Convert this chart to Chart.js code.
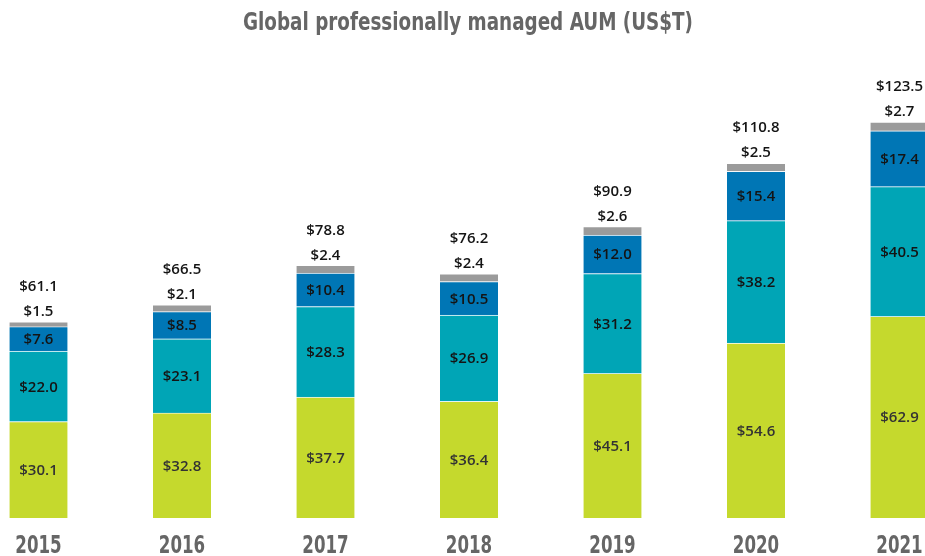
<!DOCTYPE html>
<html>
<head>
<meta charset="utf-8">
<script src="https://cdn.jsdelivr.net/npm/chart.js@4.4.1/dist/chart.umd.min.js"></script>
<style>
    html, body { margin: 0; padding: 0; background: #ffffff; }
    #wrap { position: relative; width: 925px; height: 556px; }
</style>
</head>
<body>
<div id="wrap"><canvas id="aum"></canvas></div>
<script>
const years = ['2015', '2016', '2017', '2018', '2019', '2020', '2021'];
const seriesGreen = [30.1, 32.8, 37.7, 36.4, 45.1, 54.6, 62.9];
const seriesTeal = [22.0, 23.1, 28.3, 26.9, 31.2, 38.2, 40.5];
const seriesBlue = [7.6, 8.5, 10.4, 10.5, 12.0, 15.4, 17.4];
const seriesGray = [1.5, 2.1, 2.4, 2.4, 2.6, 2.5, 2.7];
const totals = [61.1, 66.5, 78.8, 76.2, 90.9, 110.8, 123.5];

const titleText = 'Global professionally managed AUM (US$T)';
const narrow = '"Liberation Sans Narrow", "DejaVu Sans Condensed", sans-serif';
const labelFont = '600 15px "Open Sans", sans-serif';

const fmt = (v) => '$' + v.toFixed(1);

// squeeze text horizontally so it reads like the condensed face of the original
function squeezedText(ctx, text, cx, cy, squeeze) {
    ctx.save();
    ctx.translate(cx, cy);
    ctx.scale(squeeze, 1);
    ctx.fillText(text, 0, 0);
    ctx.restore();
}

// labels, title and year ticks drawn on top of the bars
const labelPlugin = {
    id: 'aumLabels',
    afterDatasetsDraw(chart) {
        const {ctx, scales: {x, y}} = chart;
        ctx.save();
        ctx.textAlign = 'center';
        ctx.textBaseline = 'middle';
        ctx.font = labelFont;

        // values inside the three big segments
        [0, 1, 2].forEach((di) => {
            const meta = chart.getDatasetMeta(di);
            ctx.fillStyle = di === 0 ? '#333333' : '#141414';
            meta.data.forEach((bar, i) => {
                const {y: top, base} = bar.getProps(['y', 'base'], true);
                ctx.fillText(fmt(chart.data.datasets[di].data[i]), bar.x, (top + base) / 2 + 1);
            });
        });

        // gray segment value and total above each bar
        const grayMeta = chart.getDatasetMeta(3);
        ctx.fillStyle = '#141414';
        grayMeta.data.forEach((bar, i) => {
            const top = bar.getProps(['y'], true).y;
            ctx.fillText(fmt(seriesGray[i]), bar.x, top - 10);
            ctx.fillText(fmt(totals[i]), bar.x, top - 35);
        });

        // year labels
        ctx.fillStyle = '#666666';
        ctx.font = 'bold 25px ' + narrow;
        years.forEach((yr, i) => {
            squeezedText(ctx, yr, x.getPixelForValue(i), y.bottom + 28, 0.74);
        });

        // title, fitted to the width it has in the original
        ctx.font = 'bold 24px ' + narrow;
        const w = ctx.measureText(titleText).width;
        squeezedText(ctx, titleText, 468, 24, Math.min(1, 450 / w));
        ctx.restore();
    }
};

const makeSet = (label, data, color) => ({
    label: label,
    data: data,
    backgroundColor: color,
    borderColor: 'rgba(255,255,255,0.35)',
    borderWidth: {top: 1},
    borderSkipped: false,
    barThickness: 58,
    clip: false,
});

new Chart(document.getElementById('aum'), {
    type: 'bar',
    data: {
        labels: years,
        datasets: [
            makeSet('Green', seriesGreen, '#c5d92d'),
            makeSet('Teal', seriesTeal, '#00a5b6'),
            makeSet('Blue', seriesBlue, '#0076b5'),
            makeSet('Gray', seriesGray, '#9b9b9b'),
        ],
    },
    options: {
        responsive: true,
        maintainAspectRatio: false,
        animation: false,
        layout: {
            padding: {top: 101.35, bottom: 38, left: 38.5, right: 25.5},
        },
        scales: {
            x: {
                stacked: true,
                offset: false,
                display: false,
            },
            y: {
                stacked: true,
                min: 0,
                max: 130,
                display: false,
            },
        },
        plugins: {
            legend: {display: false},
            title: {display: false},
            tooltip: {enabled: false},
        },
    },
    plugins: [labelPlugin],
});
</script>
</body>
</html>
